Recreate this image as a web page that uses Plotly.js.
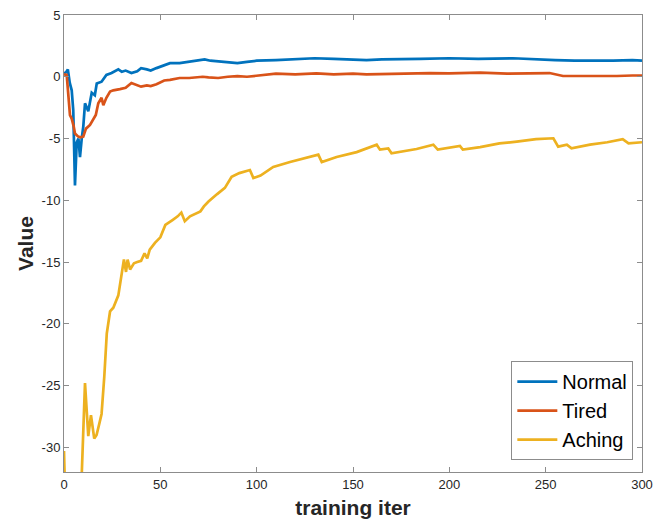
<!DOCTYPE html>
<html>
<head>
<meta charset="utf-8">
<script src="https://cdn.plot.ly/plotly-3.0.1.min.js"></script>
<style>html,body{margin:0;padding:0;background:#fff;}#chart{width:654px;height:519px;}</style>
</head>
<body>
<div id="chart"></div>
<script>
const seriesNames = ["Normal", "Tired", "Aching"];
const seriesColors = ["#0072BD", "#D95319", "#EDB120"];

const iterNormal = [0,1,2,3,4,4.8,5.7,6.6,7.5,8.3,9.2,10,10.9,12.6,14.4,16,17,19.5,22,24.7,28.2,30,32,35,38,40,43,45,48,50,55,60,65,70,73,76,80,85,90,95,100,110,120,130,140,150,157,165,175,185,200,215,233,245,255,265,273,285,295,300];
const normal = [0.3,0.35,0.6,-0.5,-1.1,-2.7,-8.8,-5.3,-5.0,-6.5,-5.0,-4.05,-2.15,-2.8,-1.3,-1.5,-0.55,-0.4,0.15,0.3,0.6,0.4,0.5,0.3,0.45,0.7,0.6,0.5,0.7,0.8,1.1,1.1,1.2,1.3,1.4,1.3,1.25,1.15,1.1,1.2,1.3,1.35,1.4,1.5,1.45,1.4,1.35,1.4,1.45,1.45,1.5,1.45,1.5,1.45,1.35,1.3,1.28,1.3,1.35,1.3];

const iterTired = [0,1.4,3.1,4,5,5.7,7.4,8.5,10,11.4,13.5,15.2,16.5,17.8,19.5,20.4,22,23.9,25.6,29,32,35,38,40,43,45,48,50.7,52,55,60,65,70,72,75,80,85,90,95,100,110,120,131,140,150,157,165,174,190,200,216,230,245,252,259,270,287,295,300];
const tired = [0.2,0.15,-3.1,-3.4,-4.0,-4.6,-4.85,-4.9,-4.85,-4.2,-3.9,-3.4,-3.1,-2.15,-1.7,-2.3,-1.7,-1.2,-1.1,-1.0,-0.9,-0.5,-0.7,-0.8,-0.7,-0.75,-0.6,-0.4,-0.3,-0.25,-0.1,-0.1,0,0,-0.05,-0.1,0,0.05,0,0.1,0.25,0.2,0.28,0.2,0.25,0.2,0.22,0.3,0.3,0.28,0.33,0.25,0.3,0.3,0.06,0.05,0.06,0.1,0.1];

const iterAching = [0,0.6,8.8,9.3,10.9,12.6,14,15.7,16.9,18.3,19.5,20.9,22.2,23.9,25.6,28.2,30,31.1,32.2,33,34.3,36.3,38,40,41.8,43.2,44.5,47.2,50,52.6,56.3,59,60.9,62.7,65.4,70.8,72.6,75,79.5,83.5,87,91,96.5,98.3,102,108.6,117.3,122.5,132,133.8,141.5,151.9,162.3,164,168.3,170,174,183,191.7,194,205.5,207,216,226,235,245,254,256.5,261,263.4,273,282,290,293,300];
const aching = [-30.3,-34,-34,-31.8,-24.8,-29.1,-27.4,-29.3,-29.0,-28.1,-27.3,-24.3,-20.8,-19.0,-18.7,-17.7,-16.05,-14.8,-15.8,-14.8,-15.6,-15.1,-15.0,-14.9,-14.3,-14.7,-14.0,-13.45,-13.0,-12.0,-11.6,-11.3,-11.0,-11.7,-11.3,-10.9,-10.5,-10.1,-9.5,-9.0,-8.1,-7.8,-7.55,-8.2,-8.0,-7.3,-6.9,-6.7,-6.3,-6.9,-6.5,-6.1,-5.5,-5.9,-5.8,-6.2,-6.1,-5.85,-5.5,-5.9,-5.6,-5.9,-5.7,-5.4,-5.25,-5.05,-4.98,-5.66,-5.5,-5.8,-5.5,-5.3,-5.05,-5.4,-5.3];

const xTicks = [0,50,100,150,200,250,300];
const yTicks = [5,0,-5,-10,-15,-20,-25,-30];

const xs = [iterNormal, iterTired, iterAching];
const ys = [normal, tired, aching];
const traces = seriesNames.map((n, i) => ({
  x: xs[i], y: ys[i], name: n, type: 'scatter', mode: 'lines',
  line: {color: seriesColors[i], width: 2.7}
}));

const FONT = 'Arial, Liberation Sans, sans-serif';
const axisCommon = {
  showgrid: false, zeroline: false, showline: true, mirror: 'ticks',
  linecolor: '#8c8c8c', linewidth: 1, ticks: 'inside', ticklen: 5,
  tickcolor: '#8c8c8c', tickfont: {family: FONT, size: 13, color: '#262626'}
};

const layout = {
  width: 654, height: 519,
  margin: {l: 64, r: 12, t: 15, b: 47},
  paper_bgcolor: '#fff', plot_bgcolor: '#fff',
  showlegend: true,
  xaxis: Object.assign({}, axisCommon, {
    range: [0, 300], tickvals: xTicks, ticktext: xTicks.map(String),
    title: {text: 'training iter', standoff: 9, font: {family: FONT, size: 21, color: '#262626', weight: 'bold'}}
  }),
  yaxis: Object.assign({}, axisCommon, {
    range: [-32, 5], tickvals: yTicks, ticktext: yTicks.map(String),
    title: {text: 'Value', standoff: 2, font: {family: FONT, size: 21, color: '#262626', weight: 'bold'}}
  }),
  legend: {
    x: 0.985, y: 0.026, xanchor: 'right', yanchor: 'bottom',
    bgcolor: '#fff', bordercolor: '#8c8c8c', borderwidth: 1,
    font: {family: FONT, size: 20, color: '#000'},
    itemwidth: 40, tracegroupgap: 0
  }
};

Plotly.newPlot('chart', traces, layout, {displayModeBar: false, staticPlot: true});
</script>
</body>
</html>
